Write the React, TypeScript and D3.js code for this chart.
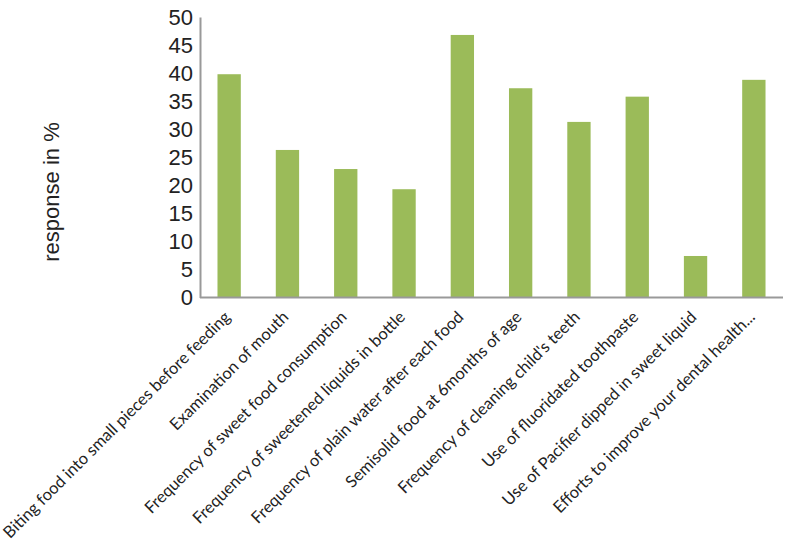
import React, { useRef, useEffect } from 'react';
import * as d3 from 'd3';

// Categories (x axis), left to right
const categories = [
  'Biting food into small pieces before feeding',
  'Examination of mouth',
  'Frequency of sweet food consumption',
  'Frequency of sweetened liquids in bottle',
  'Frequency of plain water after each food',
  'Semisolid food at 6months of age',
  "Frequency of cleaning child's teeth",
  'Use of fluoridated toothpaste',
  'Use of Pacifier dipped in sweet liquid',
  'Efforts to improve your dental health...',
];

// response in %
const values = [39.8, 26.3, 22.9, 19.3, 46.8, 37.3, 31.3, 35.8, 7.4, 38.8];

const yTicks = [0, 5, 10, 15, 20, 25, 30, 35, 40, 45, 50];

const App = () => {
  const svgRef = useRef<SVGSVGElement | null>(null);

  useEffect(() => {
    if (!svgRef.current) return;
    const width = 788;
    const height = 545;

    const svg = d3.select(svgRef.current);
    svg.selectAll('*').remove();

    const left = 200;
    const right = 783;
    const top = 17;
    const bottom = 297.5;

    const x = d3.scaleBand<string>()
      .domain(categories)
      .range([left, right])
      .paddingInner(0.6)
      .paddingOuter(0.3);

    const y = d3.scaleLinear()
      .domain([0, 50])
      .range([bottom, top]);

    // Bars
    svg.append('g')
      .selectAll('rect')
      .data(values)
      .enter()
      .append('rect')
      .attr('x', (d, i) => x(categories[i]) as number)
      .attr('y', d => y(d))
      .attr('width', x.bandwidth())
      .attr('height', d => bottom - y(d))
      .attr('fill', '#9BBB59');

    // Y axis
    const yAxis = d3.axisLeft(y).tickValues(yTicks).tickSize(0).tickPadding(7);
    const yg = svg.append('g')
      .attr('transform', `translate(${left}, 0)`)
      .call(yAxis);
    yg.select('.domain').attr('stroke', '#999999').attr('stroke-width', 2);
    yg.selectAll('.tick text')
      .attr('font-family', 'Liberation Sans, Arial, sans-serif')
      .attr('font-size', 22)
      .attr('fill', '#222222');

    // X axis line
    svg.append('line')
      .attr('x1', left)
      .attr('x2', right)
      .attr('y1', bottom)
      .attr('y2', bottom)
      .attr('stroke', '#999999')
      .attr('stroke-width', 2);

    // Category labels, rotated
    svg.append('g')
      .selectAll('text')
      .data(categories)
      .enter()
      .append('text')
      .attr('transform', d => `translate(${(x(d) as number) + x.bandwidth() / 2 - 2}, 314) rotate(-45)`)
      .attr('text-anchor', 'end')
      .attr('dy', '0.35em')
      .attr('font-family', 'Lato, Carlito, Calibri, sans-serif')
      .attr('font-size', 16.5)
      .attr('fill', '#222222')
      .text(d => d);

    // Y axis title
    svg.append('text')
      .attr('transform', `translate(59, 192) rotate(-90)`)
      .attr('text-anchor', 'middle')
      .attr('font-family', 'Liberation Sans, Arial, sans-serif')
      .attr('font-size', 22)
      .attr('fill', '#222222')
      .text('response in %');

    svg.attr('width', width).attr('height', height);
  }, []);

  return (
    <svg
      ref={svgRef}
      width={788}
      height={545}
      style={{ position: 'absolute', left: 0, top: 0, background: '#ffffff' }}
    />
  );
};

export default App;
